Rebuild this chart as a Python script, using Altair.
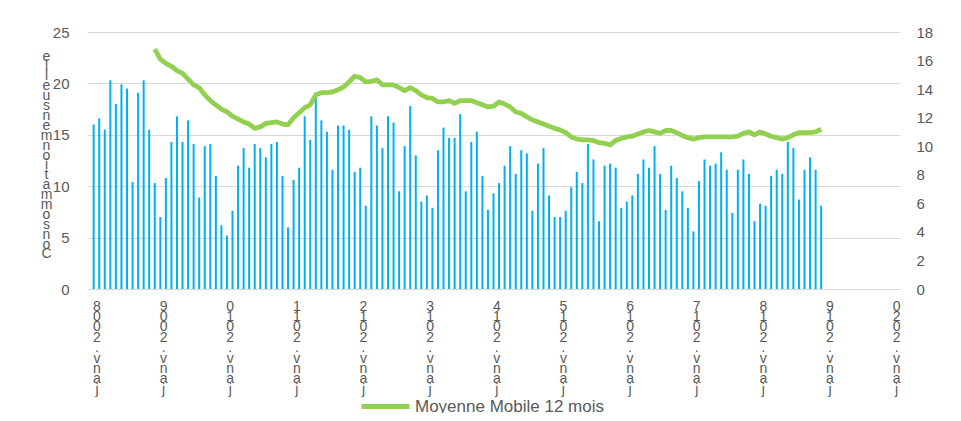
import json
import altair as alt
import pandas as pd

# Monthly consumption (left axis), Jan 2008 .. Dec 2018
bars = [
    16.0, 16.6, 15.5, 20.3, 18.0, 19.9, 19.5, 10.4, 19.1, 20.3, 15.5, 10.3,
    7.0, 10.8, 14.3, 16.8, 14.3, 16.4, 14.1, 8.9, 13.9, 14.1, 11.0, 6.2,
    5.2, 7.6, 12.0, 13.7, 11.8, 14.1, 13.7, 12.8, 14.1, 14.3, 11.0, 6.0,
    10.6, 11.8, 16.8, 14.5, 19.1, 16.4, 15.3, 11.6, 15.9, 15.9, 15.5, 11.4,
    11.8, 8.1, 16.8, 15.9, 13.7, 16.8, 16.2, 9.5, 13.9, 17.8, 13.0, 8.5,
    9.1, 7.9, 13.5, 15.7, 14.7, 14.7, 17.0, 9.5, 14.3, 15.3, 11.0, 7.7,
    9.3, 10.3, 12.0, 13.9, 11.2, 13.5, 13.2, 7.6, 12.2, 13.7, 9.1, 7.0,
    7.0, 7.6, 9.9, 11.4, 10.3, 14.1, 12.6, 6.6, 12.0, 12.2, 11.8, 7.9,
    8.5, 9.1, 11.2, 12.6, 11.8, 13.9, 11.2, 7.7, 12.0, 10.8, 9.5, 7.9,
    5.6, 10.5, 12.6, 12.0, 12.2, 13.3, 11.6, 7.4, 11.6, 12.6, 11.2, 6.6,
    8.3, 8.1, 11.0, 11.6, 11.2, 14.3, 13.7, 8.7, 11.6, 12.8, 11.6, 8.1,
]

# 12-month moving average (right axis), Dec 2008 .. Dec 2018
moving_avg = [
    16.8, 16.1, 15.8, 15.6, 15.3, 15.1, 14.7, 14.3, 14.1, 13.6, 13.2, 12.9, 12.6,
    12.4, 12.1, 11.9, 11.7, 11.55, 11.25, 11.35, 11.6, 11.65, 11.7, 11.55, 11.5,
    12.0, 12.35, 12.7, 12.9, 13.6, 13.75, 13.75, 13.8, 13.95, 14.15, 14.5, 14.9,
    14.8, 14.5, 14.55, 14.65, 14.3, 14.3, 14.3, 14.1, 13.9, 14.1, 13.9, 13.6,
    13.4, 13.35, 13.1, 13.1, 13.2, 13.0, 13.2, 13.2, 13.2, 13.05, 12.9, 12.75,
    12.8, 13.1, 12.95, 12.75, 12.4, 12.3, 12.05, 11.85, 11.7, 11.55, 11.4, 11.25,
    11.15, 10.95, 10.65, 10.5, 10.45, 10.45, 10.4, 10.25, 10.2, 10.1, 10.4, 10.55,
    10.65, 10.7, 10.85, 11.0, 11.1, 11.0, 10.9, 11.1, 11.1, 10.95, 10.75, 10.6,
    10.5, 10.6, 10.65, 10.65, 10.65, 10.65, 10.65, 10.65, 10.7, 10.9, 11.0, 10.8,
    11.0, 10.85, 10.7, 10.6, 10.5, 10.6, 10.8, 10.95, 10.95, 10.95, 11.0, 11.2,
]
ma_start = 11  # first month of the moving average (Dec 2008)

x_tick_labels = ["janv.%d" % y for y in range(2008, 2021)]
left_ticks = [0, 5, 10, 15, 20, 25]
right_ticks = [0, 2, 4, 6, 8, 10, 12, 14, 16, 18]
y_title = "Consommation mensuelle"
series_name = "Moyenne Mobile 12 mois"

FONT = "Liberation Sans"
GREY = "#595959"

df_bars = pd.DataFrame({"idx": list(range(len(bars))), "value": bars})
df_ma = pd.DataFrame({
    "idx": list(range(ma_start, ma_start + len(moving_avg))),
    "ma": moving_avg,
    "serie": [series_name] * len(moving_avg),
})

# stacked, reversed characters like the original
label_lines = [list(reversed(s)) for s in x_tick_labels]
label_expr = json.dumps(label_lines) + "[floor(datum.value/12)]"
title_lines = list(reversed(y_title))
tick_positions = [12 * i + 0.5 for i in range(len(x_tick_labels))]

x_scale = alt.Scale(domain=[-0.3, 144.3], nice=False, zero=False)
x_axis = alt.Axis(
    values=tick_positions, labelExpr=label_expr, title=None,
    grid=False, domain=False, ticks=False, labelAngle=0,
    labelBaseline="top", labelPadding=10, labelLineHeight=10.4,
    labelFont=FONT, labelFontSize=14, labelColor=GREY,
    labelOverlap=False, labelFlush=False,
)

bar_layer = alt.Chart(df_bars).mark_bar(color="#00B0F0", size=2).encode(
    x=alt.X("idx:Q", scale=x_scale, axis=x_axis),
    y=alt.Y(
        "value:Q",
        scale=alt.Scale(domain=[0, 25], nice=False),
        axis=alt.Axis(
            values=left_ticks, grid=True, gridColor="#d9d9d9", domain=False,
            ticks=False, labelPadding=18, labelFont=FONT, labelFontSize=15,
            labelColor=GREY, title=title_lines, titleAngle=0,
            titleLineHeight=9.9, titleX=-41, titleY=17, titleBaseline="top",
            titleAlign="center", titleFont=FONT, titleFontSize=14,
            titleFontWeight="normal", titleColor=GREY,
        ),
    ),
)

line_layer = alt.Chart(df_ma).mark_line(strokeWidth=4.8, strokeJoin="round").encode(
    x=alt.X("idx:Q", scale=x_scale),
    y=alt.Y(
        "ma:Q",
        scale=alt.Scale(domain=[0, 18], nice=False),
        axis=alt.Axis(
            orient="right", values=right_ticks, grid=False, domain=False,
            ticks=False, labelPadding=16, labelFont=FONT, labelFontSize=15,
            labelColor=GREY, title=None,
        ),
    ),
    color=alt.Color(
        "serie:N",
        scale=alt.Scale(range=["#92D050"]),
        legend=alt.Legend(
            orient="none", legendX=272, legendY=348, title=None,
            symbolType="stroke", symbolSize=2304, symbolStrokeWidth=5,
            labelFont=FONT, labelFontSize=17, labelColor=GREY,
            labelOffset=3, labelLimit=0, padding=0,
        ),
    ),
)

chart = (
    alt.layer(bar_layer, line_layer)
    .resolve_scale(y="independent")
    .properties(
        width=813, height=257,
        autosize=alt.AutoSizeParams(type="none"),
        padding={"left": 79, "top": 24, "right": 45, "bottom": 124},
    )
    .configure_view(stroke=None)
)

chart.save("out.html", embed_options={"renderer": "svg", "actions": False})
